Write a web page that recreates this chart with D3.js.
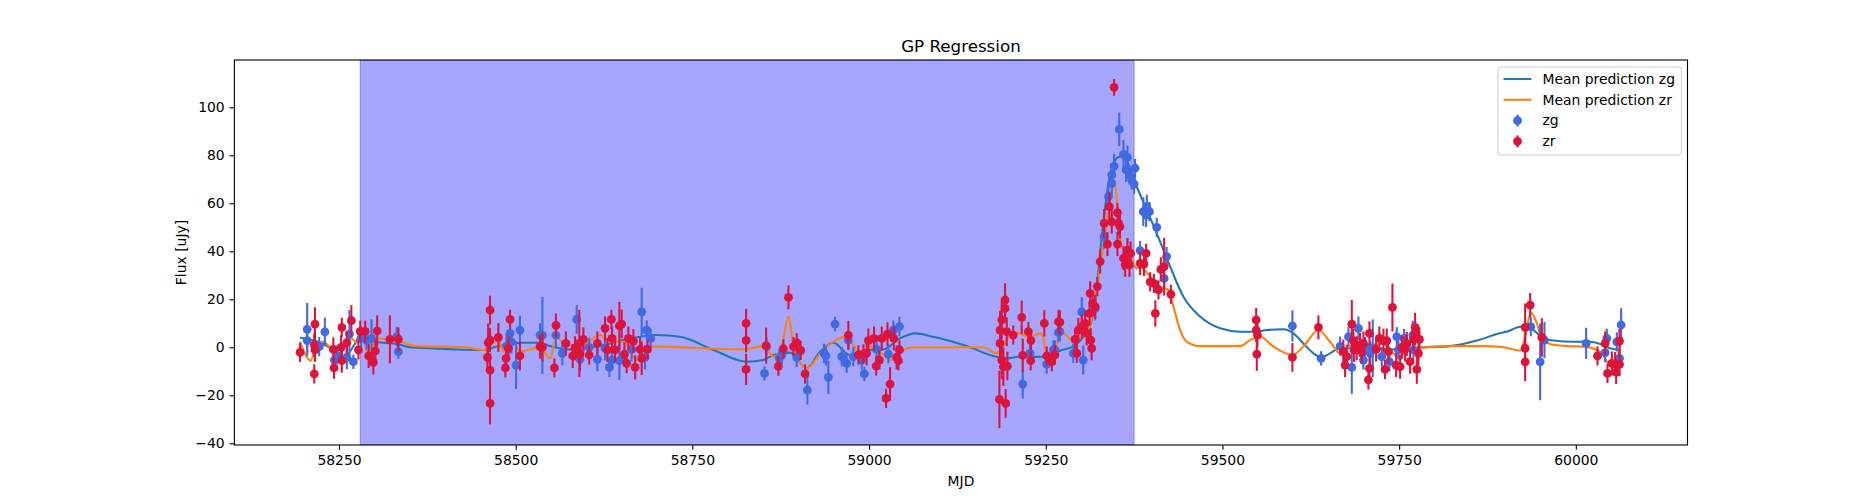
<!DOCTYPE html>
<html>
<head>
<meta charset="utf-8">
<script src="https://cdn.jsdelivr.net/npm/d3@7"></script>
<style>
    body { margin: 0; background: #fff; }
    text { font-family: "DejaVu Sans", sans-serif; fill: #000; }
</style>
</head>
<body>
<svg class="chart"></svg>
<script>

var chartWidth = 1875, chartHeight = 500;
var plotLeft = 234.4, plotRight = 1687.5, plotTop = 60, plotBottom = 445;

var xDomain = [58102, 60158];
var yDomain = [-40.7, 119.7];
var xTicks = [58250, 58500, 58750, 59000, 59250, 59500, 59750, 60000];
var yTicks = [-40, -20, 0, 20, 40, 60, 80, 100];
var shadeRange = [58280, 59375];

var titleText = "GP Regression";
var legendLabels = ["Mean prediction zg", "Mean prediction zr", "zg", "zr"];

// zg observations
var zgMjd = [58205, 58205, 58222, 58230, 58243.4, 58246.7, 58261, 58264.7, 58270.3, 58281, 58289, 58296, 58331.6, 58334,
    58487, 58492, 58494, 58500.5, 58506, 58534.5, 58537.8, 58557, 58566, 58586.3, 58591, 58604, 58615.6, 58626.4,
    58632.6, 58636, 58646.7, 58664, 58678.3, 58683, 58685.4, 58691, 58852, 58855, 58873, 58876.5, 58897.7, 58912.7,
    58936.3, 58939, 58942.4, 58951.8, 58961.3, 58968.3, 58970.7, 58977.8, 58989.6, 58993.3, 59010.8, 59027.3, 59034.4,
    59042.9, 59217.4, 59227.8, 59251.4, 59260.8, 59263, 59268, 59270, 59289, 59301, 59303, 59320, 59332.6, 59338.7,
    59343.4, 59343.4, 59346.7, 59354, 59360, 59363.7, 59365.6, 59368.4, 59371.7, 59375, 59376.4, 59383.5, 59388, 59392,
    59393, 59396.7, 59407, 59417.5, 59421, 59599, 59639.6, 59666.5, 59678.3, 59683, 59692.4, 59699.5, 59701.8, 59709,
    59712.7, 59725.4, 59736.3, 59746.6, 59749, 59757, 59769.3, 59770.2, 59936.3, 59949.5, 59955.6, 60014.6, 60041.5,
    60043.8, 60058, 60061.8, 60064.1];
var zgFlux = [7.5, 2.8, 0.3, 6.4, -5.3, -3.2, -4.2, 5.5, -6, 3.7, 3, 3.7, 4.4, -1.8,
    0.5, 5.8, 2.3, -7.4, 7.2, 5.1, 5, 5, -2.5, 11.6, -5, 0, -5, -0.4,
    -8.4, -5.3, -5.6, -0.9, 14.8, -4.2, 7.2, 3.7, -10.9, 0.3, -4.6, -3.2, -4.2, -17.8,
    -2.5, -3.6, -12.5, 9.7, -3.9, -6.7, 3, -3.9, -5.3, -11.1, -0.9, -2.8, 7.2,
    8.6, -15.3, -2.5, -7, -1.1, -1.1, 6.1, 6.5, -2.5, 14.8, -5.3, 16.2, 46.1, 62.8,
    68.3, 71.8, 75.5, 90.8, 80.4, 73.9, 79.1, 71.8, 69.7, 68, 74.6, 40.3, 56.5, 55.1,
    58.6, 56.5, 50, 28.7, 37.8, 8.9, -4.6, 0.5, 4.4, -8.4, 7.9, -5.3, 0.3, -2.5,
    -0.4, -3.9, -6, 4.4, -1.1, 3.7, 5.1, -1.1, 8.6, -6.1, 3, 1.6, -2.2,
    3.7, 2.3, -4.6, 9.3];
var zgErr = [11, 5, 4, 6, 4, 4, 5, 10, 3, 5, 4, 8, 4, 3,
    5, 5, 5, 10, 6, 5, 16, 5, 5, 6, 5, 4, 5, 5,
    4, 4, 8, 5, 10, 5, 4, 4, 3, 4, 4, 4, 4, 6,
    4, 4, 7, 3, 4, 4, 4, 4, 4, 3, 4, 4, 4,
    4, 6, 4, 4, 4, 4, 4, 4, 4, 6, 6, 5, 5, 5,
    5, 5, 5, 7, 6, 5, 5, 4, 4, 4, 4, 4, 6, 5,
    5, 4, 4, 4, 4, 6.5, 3, 4, 4, 11, 5, 4, 4, 5,
    12, 4, 4, 4, 4, 4, 6, 4, 4, 16, 7.5, 6.5, 4,
    4, 4, 4, 7];

// zr observations
var zrMjd = [58194.9, 58215, 58215, 58216, 58216, 58242, 58243, 58253, 58254, 58254, 58261, 58267.5, 58277.4, 58280,
    58287, 58292, 58298.6, 58301.5, 58304, 58322, 58334, 58460, 58461, 58463.7, 58463.7, 58463.7, 58463.7, 58475.5,
    58485.4, 58486.4, 58489.7, 58492, 58506, 58534.5, 58537.8, 58554.7, 58557, 58571, 58580.7, 58584, 58590, 58591,
    58595.8, 58604, 58615.6, 58626.4, 58629.7, 58635.4, 58636.3, 58640.6, 58646.7, 58650, 58653.8, 58657, 58659.5,
    58666.5, 58669, 58676, 58678.3, 58686.4, 58826, 58826, 58826, 58854.3, 58871.7, 58878.8, 58885.9, 58893, 58897.7,
    58903.3, 58909.4, 58970.7, 58985, 58992, 58996.6, 58999, 59007, 59010, 59014.6, 59018, 59024, 59026, 59029.7,
    59035, 59039, 59041.5, 59043, 59184.4, 59185.3, 59185.3, 59187.7, 59187.7, 59190, 59192.4, 59192.4, 59193.3,
    59194.8, 59195.7, 59204, 59216, 59217.4, 59225.4, 59228.7, 59229, 59248, 59251.4, 59258.5, 59263, 59268, 59270,
    59291.5, 59294, 59296, 59301, 59305.7, 59308, 59312, 59312.8, 59313.7, 59315, 59316.5, 59320, 59323, 59327,
    59332.6, 59337.3, 59340, 59343.4, 59346.7, 59351.4, 59351.4, 59353, 59355, 59360, 59362.3, 59365.6, 59368.4,
    59370, 59383.5, 59389, 59392, 59397.7, 59403, 59405, 59409.5, 59412.8, 59417.5, 59427, 59547.7, 59547.7, 59549.5,
    59548.6, 59599, 59635.8, 59671, 59673.5, 59676, 59683, 59685.3, 59686.3, 59690, 59694.8, 59697, 59699.5, 59706.5,
    59708, 59708, 59717.4, 59722, 59727.8, 59730, 59732.5, 59734.8, 59740.5, 59745.7, 59751.4, 59753.7, 59758.4,
    59760.8, 59765.5, 59770.2, 59772.6, 59772.6, 59775, 59777.3, 59778.7, 59928.3, 59928.3, 59928.3, 59935.4, 59951.9,
    60030.6, 60041.5, 60044.8, 60051, 60055.6, 60057, 60061.8, 60061.8];
var zrFlux = [-2.1, 0.95, -11.1, 9.7, -1.1, -0.9, -8.6, 0, 8.3, -5.6, 1.9, 11.1, -1.1, 6.6,
    6.6, -3.6, -6.3, -1.5, 6.8, 3.3, 3.3, -4.2, 1.9, 15.5, 3, -9.5, -23.4, 4.1,
    -8.6, -4.6, -0.4, 11.6, -3.6, 0.3, 0.1, -8.6, 9.1, 1.6, -3.6, -0.4, 1.6, -2.8,
    3.3, -3.2, 1.6, 7.9, -1.1, 11.6, 3.7, -1.1, 8.9, 9.7, -2.9, -6.7, 3.7,
    2.6, -8.4, -0.9, -4.6, -0.9, 10, 2.9, -9.2, 0.7, -7.9, -0.6, 20.8, 0.3, 1.9,
    -1.3, -11.1, 5, -3.2, -2.8, -2.5, 2.8, 3.7, -7.8, -5.3, 3.7, -21.3, 5.5, -15.3,
    3.7, -4.2, -5.6, -1.1, -21.7, 7.2, 1.6, 11.4, -5.3, -8.1, 19.7, 16.2, -23.4,
    6.5, -7.8, 5.1, 12.5, -3.4, 6.5, -5.6, 2.8, 10, -3.6, -6, -3.2, 10.7, 10.4,
    3.3, -2.5, 7.2, 8.6, 10, 5.8, 14.1, 22.5, 3, -0.4, 18.3, 16.9, 25.3, 35.7,
    51.6, 43, 58.6, 52.3, 108.3, 56.1, 43, 51.6, 50.3, 37.1, 34.3, 40.5, 34.3,
    39.1, 35, 34.7, 39.1, 27.3, 26.6, 14.1, 23.9, 32.5, 33.6, 22.1, 11.4, 7.2, 5.1,
    -2.8, -4.2, 8.3, -1.8, -7.4, -3.9, 9.7, 2.8, -1.1, -0.4, 1, -1.8, 1.6, -13.6,
    -8.8, 5.8, -0.9, 3.7, 2.8, -9.2, 2.8, -1.8, 16.6, -7.4, -8.1, 0, -0.9,
    1.4, -6, 3.3, 8.3, 5.8, -9.2, -2.5, 3.3, 8.3, -0.4, -6.1, 17.6, 4.1,
    -3.6, 1.6, -10.9, -6.7, -7, -10.3, -7.1, 2.6];
var zrErr = [4, 5, 4, 7, 5, 5, 4.5, 5, 4, 5, 5, 6.5, 4, 4.5,
    4.5, 5, 5, 5, 6.5, 10, 5, 5, 8, 6, 5, 7, 8.7, 6,
    4, 5, 5, 4, 6, 5, 6, 4, 5, 5, 5, 5, 14, 5,
    5, 4, 5, 5, 5, 4, 5, 5, 10, 6, 5, 4, 5,
    5, 5, 5, 7, 4, 6, 5, 6.5, 7.5, 4, 4, 5, 4, 4,
    4, 4, 6, 4, 4, 5, 5, 5, 4, 4, 5, 4, 5, 7,
    5, 5, 4, 4, 12, 8, 8, 8, 8, 8, 7, 6, 6,
    6, 6, 4, 7, 7, 4, 4, 4, 5.5, 4, 4, 4, 5, 5,
    4, 4, 5, 5, 5, 5, 5, 5, 5, 5, 5, 5, 4, 5,
    6, 5, 6, 5, 3.5, 4, 5, 5, 5, 5, 5, 5, 5,
    5, 5, 5, 4, 4, 4, 5.5, 4, 5, 12, 4, 5, 5, 5,
    7, 6, 5, 5, 5, 5, 10, 5, 5, 5, 5, 5, 5, 4,
    5, 5, 5, 5, 5, 4, 5, 5, 10, 5, 5, 5, 5,
    5, 5, 5, 6, 5, 6, 5, 5, 10, 5, 8, 5, 8,
    4, 5, 4, 5, 5, 5, 5, 5];

// GP mean prediction
var gpZgMjd = [58194.9, 58209, 58228, 58242, 58256, 58265.6, 58272.7, 58279.8, 58294, 58312.8, 58331.6, 58350.5,
    58378.8, 58416.6, 58454.3, 58473, 58492, 58511, 58534.5, 58548.6, 58576.9, 58614.6, 58661.8, 58699.5, 58732.6,
    58779.7, 58826.9, 58850.5, 58864.7, 58888.2, 58911.8, 58930.6, 58949.5, 58973, 58996.6, 59020.2, 59043.8, 59065,
    59091, 59138.2, 59175.9, 59194.8, 59213.6, 59242, 59260.8, 59270.3, 59289.2, 59303.3, 59317.5, 59329.3, 59338.7,
    59345.8, 59354.3, 59362.3, 59369.4, 59378.8, 59393, 59407, 59426, 59444.8, 59468.4, 59496.7, 59525, 59548.6,
    59562.7, 59586.3, 59600.4, 59614.6, 59628.7, 59640.5, 59652.3, 59666.5, 59704.2, 59737.2, 59765.5, 59784.4,
    59822.1, 59859.9, 59888.2, 59907, 59916.5, 59930.6, 59940.1, 59954.2, 59968.4, 59996.7, 60020.3, 60034.4,
    60048.6, 60060.4];
var gpZgFlux = [4, 3.3, 1.4, -1.1, -4.2, -1.8, 1.6, 4.4, 2.8, 1.9, 1.4, 0,
    -0.4, -0.9, -1.1, 0.3, 1.4, 1.9, 1.9, 0.5, -0.9, 0.3, 3.7, 5.1, 4.4,
    -1.1, -6, -5.3, -3.2, -2.2, -8.8, -1.8, 1.9, -3.2, -1.1, -0.9, 3.7, 5.8,
    4.4, 0.5, -3.6, -4.6, -3.9, -4, -2.5, -1.4, 0.5, 4.4, 14.1, 46.1, 68.3,
    76.6, 79.4, 79.1, 73.9, 66.9, 57.2, 47.5, 33.6, 21.1, 12.8, 7.9, 6.5, 6.5,
    7.2, 7.5, 5.8, 1.6, -2.5, -4.2, -2.5, -0.4, -0.4, -0.9, -0.4, 0,
    0.5, 2.8, 5.5, 7, 8.3, 8.9, 7.2, 3.7, 2.8, 2.3, 2.3, 1.4,
    -0.4, -1.1];

var gpZrMjd = [58194.9, 58204.3, 58210, 58218.4, 58228, 58239.7, 58251.5, 58261, 58268, 58275, 58284.5, 58290,
    58298.6, 58307.1, 58317.5, 58336.4, 58360, 58393, 58430.7, 58454.3, 58468.4, 58475.5, 58482.6, 58494.4, 58506.2,
    58520.3, 58534.5, 58548.6, 58558, 58567.5, 58591, 58619.4, 58633.5, 58652.4, 58671.2, 58680.7, 58694.8, 58822.2,
    58850.5, 58864.7, 58876.4, 58885.9, 58893, 58907.1, 58911.7, 58935.3, 58968.3, 58977.8, 58987.2, 59001.4, 59020.2,
    59032, 59048.5, 59062.7, 59161.7, 59180.6, 59204.2, 59227.8, 59242, 59246.6, 59251.4, 59260.9, 59270.3, 59289.2,
    59308, 59317.5, 59327, 59336.3, 59342, 59348.1, 59352.8, 59357.6, 59369.4, 59378.8, 59383.5, 59397.7, 59411.8,
    59423.6, 59430.7, 59440.1, 59449.5, 59468.4, 59525, 59539.1, 59553.3, 59572.1, 59599, 59614.6, 59635.8, 59652.3,
    59666.5, 59680.6, 59704.2, 59727.8, 59741.9, 59751.4, 59760.8, 59774.9, 59822.1, 59869.3, 59897.6, 59911.8,
    59921.2, 59928.3, 59936.3, 59944.8, 59951.9, 59963.7, 59987.2, 60010.8, 60029.7, 60039.1, 60043.8, 60053.3,
    60058.9, 60062.7, 60065.1];
var gpZrFlux = [2.3, -3.9, -5.6, 1.6, 2.3, -0.4, 0.3, 2.3, 3.7, 1.9, 3.7, -1.8,
    1, 3.7, 3.3, 2.3, 0.5, 0.3, 0, -1.1, 1.9, 3, -1.8, 3.7, -1.8,
    -0.9, 0.3, -4.6, 4.4, 1.6, 0.3, 5.1, 2.3, 2.3, -5.3, -1.1, 0.3, -0.9,
    0.5, -3.9, 0.3, 12.8, 0.3, -8.1, -8.8, -0.9, 4.4, 1, -3.2, 0.3, -3.2,
    -5.3, -1.1, 0, 0, -2.5, 6.5, 4.4, 5.8, 3.7, -3.5, -3.9, 6.5, 3,
    5.8, 15.5, 33.6, 51.6, 62.8, 67.6, 53, 41.9, 37.8, 32.9, 33.6, 29.4, 25.3,
    23.9, 16.9, 7.2, 2.3, 0.5, 0.5, 3, 4.4, 0.3, -3.2, 0.3, 7.2, 2.3,
    -2.5, 0.3, 1, 1.4, -2.5, -4.6, -1.1, -0.4, 0.5, 0.5, 0, -0.9,
    -1.4, 4.4, 14.4, 10, 3.7, 1.4, 0.5, 0.3, -1.1, -2.8, -6, -7,
    -4.6, 1, 4.4];

var zgColor = "royalblue", zrColor = "crimson";
var gpZgColor = "#1f77b4", gpZrColor = "#ff7f0e";
var markerRadius = 4.4;


function buildPoints(mjd, flux, err) {
    return mjd.map(function (d, i) {
        return {x: d, y: flux[i], e: err ? err[i] : 0};
    });
}

function drawChart() {
    var chart = d3.select(".chart")
        .attr("width", chartWidth)
        .attr("height", chartHeight);

    var x = d3.scaleLinear().domain(xDomain).range([plotLeft, plotRight]);
    var y = d3.scaleLinear().domain(yDomain).range([plotBottom, plotTop]);

    chart.append("defs").append("clipPath")
        .attr("id", "plotClip")
        .append("rect")
        .attr("x", plotLeft).attr("y", plotTop)
        .attr("width", plotRight - plotLeft).attr("height", plotBottom - plotTop);

    var plot = chart.append("g").attr("clip-path", "url(#plotClip)");

    // shaded window
    plot.append("rect")
        .attr("x", x(shadeRange[0]))
        .attr("y", plotTop)
        .attr("width", x(shadeRange[1]) - x(shadeRange[0]))
        .attr("height", plotBottom - plotTop)
        .style("fill", "blue").style("fill-opacity", 0.35)
        .style("stroke", "blue").style("stroke-opacity", 0.35).style("stroke-width", 1);

    var line = d3.line()
        .x(function (d) { return x(d.x); })
        .y(function (d) { return y(d.y); })
        .curve(d3.curveMonotoneX);

    plot.append("path")
        .datum(buildPoints(gpZgMjd, gpZgFlux))
        .attr("d", line)
        .style("fill", "none").style("stroke", gpZgColor).style("stroke-width", 2.08);

    plot.append("path")
        .datum(buildPoints(gpZrMjd, gpZrFlux))
        .attr("d", line)
        .style("fill", "none").style("stroke", gpZrColor).style("stroke-width", 2.08);

    drawErrorbars(plot, buildPoints(zgMjd, zgFlux, zgErr), zgColor, x, y);
    drawErrorbars(plot, buildPoints(zrMjd, zrFlux, zrErr), zrColor, x, y);

    // axes
    var xAxis = d3.axisBottom(x).tickValues(xTicks).tickSize(4.86).tickPadding(4.9).tickFormat(d3.format("d"));
    var yAxis = d3.axisLeft(y).tickValues(yTicks).tickSize(4.86).tickPadding(4.9);

    var gx = chart.append("g").attr("transform", "translate(0," + plotBottom + ")").call(xAxis);
    var gy = chart.append("g").attr("transform", "translate(" + plotLeft + ",0)").call(yAxis);
    [gx, gy].forEach(function (g) {
        g.select(".domain").remove();
        g.selectAll(".tick line").style("stroke", "#000").style("stroke-width", 1.1);
        g.selectAll(".tick text")
            .style("font-family", "DejaVu Sans")
            .style("font-size", "13.9px")
            .style("fill", "#000");
    });

    chart.append("rect")
        .attr("x", plotLeft).attr("y", plotTop)
        .attr("width", plotRight - plotLeft).attr("height", plotBottom - plotTop)
        .style("fill", "none").style("stroke", "#000").style("stroke-width", 1.1);

    chart.append("text")
        .attr("x", (plotLeft + plotRight) / 2).attr("y", 51.7)
        .attr("text-anchor", "middle")
        .style("font-size", "16.7px")
        .text(titleText);

    chart.append("text")
        .attr("x", (plotLeft + plotRight) / 2).attr("y", 486)
        .attr("text-anchor", "middle")
        .style("font-size", "13.9px")
        .text("MJD");

    chart.append("text")
        .attr("transform", "translate(186," + (plotTop + plotBottom) / 2 + ") rotate(-90)")
        .attr("text-anchor", "middle")
        .style("font-size", "13.9px")
        .text("Flux [uJy]");

    drawLegend(chart);
}

function drawErrorbars(parent, points, color, x, y) {
    var g = parent.append("g");

    g.selectAll("line")
        .data(points)
        .enter().append("line")
        .attr("x1", function (d) { return x(d.x); })
        .attr("x2", function (d) { return x(d.x); })
        .attr("y1", function (d) { return y(d.y - d.e); })
        .attr("y2", function (d) { return y(d.y + d.e); })
        .style("stroke", color).style("stroke-width", 2.08);

    g.selectAll("circle")
        .data(points)
        .enter().append("circle")
        .attr("cx", function (d) { return x(d.x); })
        .attr("cy", function (d) { return y(d.y); })
        .attr("r", markerRadius)
        .style("fill", color);
}

function drawLegend(chart) {
    var left = 1498, top = 67, rowStep = 20.8;
    var colors = [gpZgColor, gpZrColor, zgColor, zrColor];

    var legend = chart.append("g").attr("class", "legend");

    legend.append("rect")
        .attr("x", left).attr("y", top)
        .attr("width", 183.5).attr("height", 88)
        .attr("rx", 2.8)
        .style("fill", "#fff").style("fill-opacity", 0.8)
        .style("stroke", "#cccccc").style("stroke-width", 1);

    var row = legend.selectAll("g.row")
        .data(legendLabels)
        .enter().append("g")
        .attr("class", "row")
        .attr("transform", function (d, i) { return "translate(0," + (top + 12 + i * rowStep) + ")"; });

    row.each(function (d, i) {
        var r = d3.select(this);
        if (i < 2) {
            r.append("line")
                .attr("x1", 1503.6).attr("x2", 1531.4)
                .attr("y1", 0).attr("y2", 0)
                .style("stroke", colors[i]).style("stroke-width", 2.08);
        } else {
            r.append("line")
                .attr("x1", 1517.5).attr("x2", 1517.5)
                .attr("y1", -6).attr("y2", 6)
                .style("stroke", colors[i]).style("stroke-width", 2.08);
            r.append("circle")
                .attr("cx", 1517.5).attr("cy", 0)
                .attr("r", markerRadius)
                .style("fill", colors[i]);
        }
        r.append("text")
            .attr("x", 1542.5).attr("y", 0)
            .attr("dy", "0.35em")
            .style("font-size", "13.9px")
            .text(d);
    });
}

drawChart();

</script>
</body>
</html>
